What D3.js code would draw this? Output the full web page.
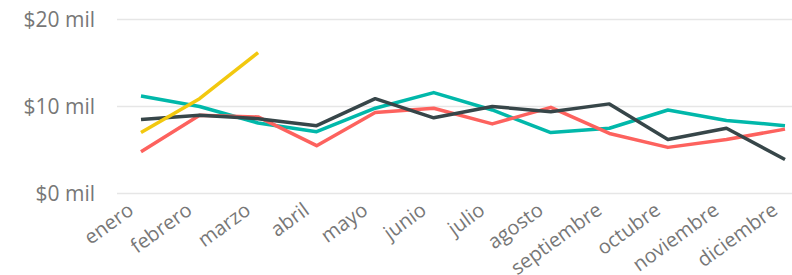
<!DOCTYPE html>
<html>
<head>
<meta charset="utf-8">
<script src="https://cdn.jsdelivr.net/npm/d3@7"></script>
<style>
  html, body { margin: 0; padding: 0; background: #fff; }
  svg text { font-family: "Segoe UI", "Open Sans", "Noto Sans", sans-serif; fill: #777; }
</style>
</head>
<body>
<div id="chart"></div>
<script>
// Months on the x axis
const months = ["enero", "febrero", "marzo", "abril", "mayo", "junio", "julio",
    "agosto", "septiembre", "octubre", "noviembre", "diciembre"];

// Values in thousands of dollars
const seriesTeal = [11.2, 10.0, 8.1, 7.1, 9.8, 11.6, 9.6, 7.0, 7.5, 9.6, 8.4, 7.8];
const seriesDark = [8.5, 9.0, 8.6, 7.8, 10.9, 8.7, 10.0, 9.4, 10.3, 6.2, 7.5, 3.9];
const seriesRed = [4.8, 9.0, 8.8, 5.5, 9.3, 9.8, 8.0, 9.9, 6.9, 5.3, 6.2, 7.4];
const seriesYellow = [7.0, 10.9, 16.2];

const yTicks = [0, 10, 20];

const width = 792, height = 275;

const svg = d3.select("#chart")
    .append("svg")
    .attr("width", width)
    .attr("height", height);

const x = d3.scalePoint()
    .domain(months)
    .range([141, 785]);

const y = d3.scaleLinear()
    .domain([0, 20])
    .range([193.5, 19.5]);

// Gridlines
svg.append("g")
    .selectAll("line")
    .data(yTicks)
    .enter()
    .append("line")
    .attr("x1", 117)
    .attr("x2", width)
    .attr("y1", d => y(d))
    .attr("y2", d => y(d))
    .attr("stroke", "#e6e6e6")
    .attr("stroke-width", 1.5);

// Y labels
svg.append("g")
    .selectAll("text")
    .data(yTicks)
    .enter()
    .append("text")
    .attr("x", 95)
    .attr("y", d => y(d))
    .attr("dy", "0.35em")
    .attr("text-anchor", "end")
    .style("font-size", "21px")
    .text(d => "$" + d + " mil");

// X labels, rotated
svg.append("g")
    .selectAll("text")
    .data(months)
    .enter()
    .append("text")
    .attr("text-anchor", "end")
    .attr("transform", d => `translate(${x(d) - 6},213) rotate(-36)`)
    .style("font-size", "20px")
    .text(d => d);

// Lines
const line = d3.line()
    .x((d, i) => x(months[i]))
    .y(d => y(d));

const series = [
    { values: seriesTeal, color: "#01B8AA" },
    { values: seriesRed, color: "#FD625E" },
    { values: seriesDark, color: "#374649" },
    { values: seriesYellow, color: "#F2C80F" }
];

svg.append("g")
    .selectAll("path")
    .data(series)
    .enter()
    .append("path")
    .attr("d", d => line(d.values))
    .attr("fill", "none")
    .attr("stroke", d => d.color)
    .attr("stroke-width", 3.5)
    .attr("stroke-linejoin", "round");
</script>
</body>
</html>
